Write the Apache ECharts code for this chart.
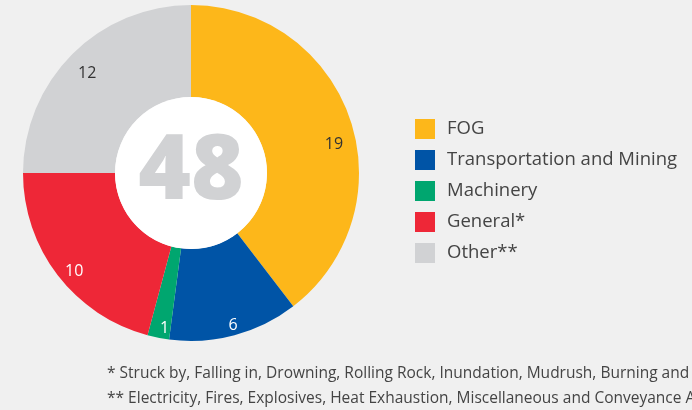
<!DOCTYPE html>
<html>
<head>
<meta charset="utf-8">
<script src="https://cdn.jsdelivr.net/npm/echarts@6/dist/echarts.min.js"></script>
<style>
  html, body { margin: 0; padding: 0; background: #f0f0f0; }
  #chart { width: 692px; height: 410px; }
</style>
</head>
<body>
<div id="chart"></div>
<script>
var categories = ['FOG', 'Transportation and Mining', 'Machinery', 'General*', 'Other**'];
var values = [19, 6, 1, 10, 12];
var colors = ['#fdb71a', '#0054a6', '#00a66f', '#ee2737', '#d1d2d4'];
var labelColors = ['#333333', '#ffffff', '#ffffff', '#ffffff', '#333333'];
var totalLabel = '48';
var footnotes = [
	'* Struck by, Falling in, Drowning, Rolling Rock, Inundation, Mudrush, Burning and Asphyxiation',
	'** Electricity, Fires, Explosives, Heat Exhaustion, Miscellaneous and Conveyance Accidents'
];

var chart = echarts.init(document.getElementById('chart'), null, {renderer: 'canvas'});
var font = '"Open Sans", Lato, sans-serif';

var pieData = [];
var labelData = [];
for (var i = 0; i < categories.length; i++) {
	pieData.push({
		name: categories[i],
		value: values[i],
		itemStyle: {color: colors[i]}
	});
	labelData.push({
		name: categories[i],
		value: values[i],
		label: {
			color: labelColors[i],
			offset: i == 0 ? [0, 20] : [3, 7]
		}
	});
}

var option = {
	backgroundColor: '#f0f0f0',
	animation: false,
	legend: {
		orient: 'vertical',
		left: 410,
		top: 114,
		itemWidth: 20,
		itemHeight: 20,
		itemGap: 11,
		icon: 'rect',
		selectedMode: false,
		textStyle: {
			fontFamily: font,
			fontSize: 18.5,
			lineHeight: 20,
			color: '#444444',
			padding: [0, 0, 0, 7]
		},
		data: categories
	},
	graphic: [
		{
			type: 'text',
			left: 107,
			top: 366,
			style: {text: footnotes[0], fontFamily: font, fontSize: 15.5, fill: '#444444'}
		},
		{
			type: 'text',
			left: 107,
			top: 391,
			style: {text: footnotes[1], fontFamily: font, fontSize: 15.5, fill: '#444444'}
		}
	],
	series: [
		{
			type: 'pie',
			center: [191, 173],
			radius: [76, 168],
			startAngle: 90,
			clockwise: true,
			silent: true,
			label: {show: false},
			labelLine: {show: false},
			data: pieData
		},
		{
			// labels only, placed further out in the ring
			type: 'pie',
			center: [191, 173],
			radius: [128, 168],
			startAngle: 90,
			clockwise: true,
			silent: true,
			itemStyle: {color: 'rgba(0,0,0,0)'},
			label: {
				show: true,
				position: 'inside',
				formatter: '{c}',
				fontFamily: font,
				fontSize: 16
			},
			labelLine: {show: false},
			data: labelData
		},
		{
			type: 'pie',
			center: [191, 173],
			radius: [0, 76],
			silent: true,
			itemStyle: {color: '#ffffff'},
			label: {
				show: true,
				position: 'center',
				formatter: totalLabel,
				fontFamily: '"Open Sans", "DejaVu Sans", sans-serif',
				fontWeight: 800,
				fontSize: 90,
				color: '#d1d2d4'
			},
			labelLine: {show: false},
			data: [{name: 'total', value: 1}]
		}
	]
};
chart.setOption(option);
</script>
</body>
</html>
